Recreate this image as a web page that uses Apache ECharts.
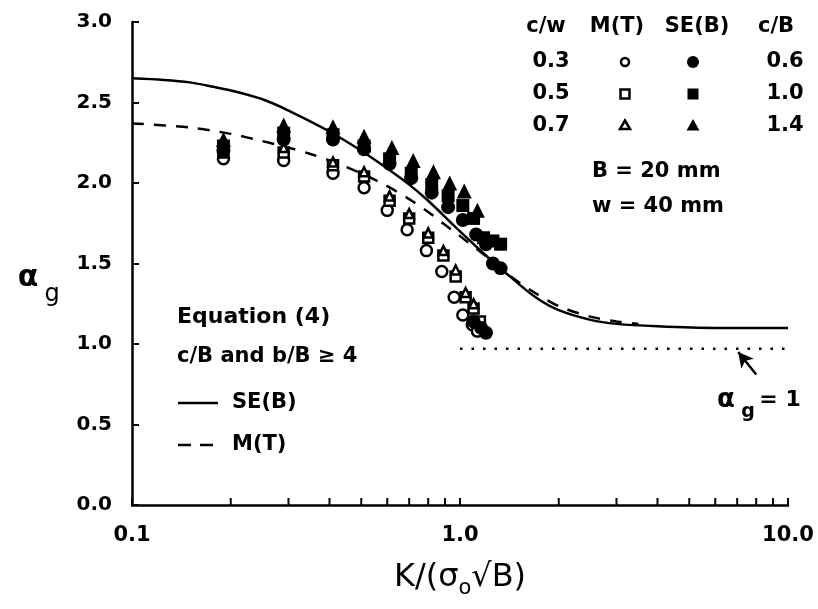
<!DOCTYPE html>
<html><head><meta charset="utf-8">
<script src="https://cdn.jsdelivr.net/npm/echarts@6/dist/echarts.min.js"></script>
<style>html,body{margin:0;padding:0;background:#fff}#c{width:818px;height:609px}</style>
</head><body><div id="c"></div>
<script>
const FONT = 'DejaVu Sans';

// Equation (4) curves
const seCurveX = [0.1,0.125,0.15,0.175,0.2,0.25,0.3,0.4,0.5,0.6,0.7,0.8,0.9,1.0,1.2,1.4,1.7,2.0,2.5,3.0,4.0,6.0,10.0];
const seCurveY = [2.65,2.64,2.625,2.60,2.575,2.52,2.45,2.32,2.20,2.09,1.99,1.89,1.79,1.70,1.55,1.43,1.29,1.21,1.15,1.125,1.11,1.10,1.10];
const mtCurveX = [0.1,0.15,0.2,0.25,0.3,0.35,0.4,0.5,0.6,0.7,0.8,0.9,1.0,1.2,1.45,1.7,2.0,2.5,3.0,3.5];
const mtCurveY = [2.37,2.345,2.305,2.26,2.22,2.18,2.14,2.06,1.98,1.90,1.82,1.74,1.67,1.545,1.41,1.315,1.235,1.17,1.14,1.125];

// alpha_g = 1 reference line
const refX = [1.0, 10.0];
const refY = [0.97, 0.97];

// M(T) open symbols
const mtCircleX = [0.19,0.29,0.41,0.51,0.60,0.69,0.79,0.88,0.96,1.02,1.09,1.13];
const mtCircleY = [2.15,2.14,2.06,1.97,1.83,1.71,1.58,1.45,1.29,1.18,1.12,1.08];
const mtSquareX = [0.19,0.29,0.41,0.51,0.61,0.70,0.80,0.89,0.97,1.04,1.10,1.15];
const mtSquareY = [2.19,2.19,2.11,2.04,1.89,1.78,1.66,1.55,1.42,1.29,1.22,1.14];
const mtTriX = [0.19,0.29,0.41,0.51,0.61,0.70,0.80,0.89,0.97,1.04,1.10];
const mtTriY = [2.23,2.22,2.13,2.07,1.92,1.81,1.69,1.58,1.46,1.32,1.25];

// SE(B) filled symbols
const seCircleX = [0.19,0.29,0.41,0.51,0.61,0.71,0.82,0.92,1.02,1.12,1.20,1.26,1.33,1.10,1.16,1.20];
const seCircleY = [2.20,2.27,2.27,2.21,2.12,2.03,1.94,1.85,1.77,1.68,1.62,1.50,1.47,1.14,1.10,1.07];
const seSquareX = [0.19,0.29,0.41,0.51,0.61,0.71,0.82,0.92,1.02,1.10,1.18,1.26,1.33];
const seSquareY = [2.23,2.31,2.30,2.23,2.15,2.06,1.99,1.92,1.86,1.78,1.66,1.64,1.62];
const seTriX = [0.19,0.29,0.41,0.51,0.62,0.72,0.83,0.93,1.03,1.13];
const seTriY = [2.27,2.36,2.35,2.29,2.22,2.14,2.07,2.00,1.95,1.83];

// axis ticks
const yTicks = [0.0,0.5,1.0,1.5,2.0,2.5,3.0];
const xMinorTicks = [0.2,0.3,0.4,0.5,0.6,0.7,0.8,0.9,2,3,4,5,6,7,8,9];

// arrow pointing at reference line
const arrowFrom = [8.0, 0.81];
const arrowTo = [7.05, 0.95];

const zip = (xs, ys) => xs.map((x, i) => [x, ys[i]]);

const openStyle = {color:'#fff', borderColor:'#000', borderWidth:2.5, opacity:1};
const fillStyle = {color:'#000', opacity:1};

const chart = echarts.init(document.getElementById('c'), null, {renderer:'canvas'});

const T = (text, x, y, opt) => Object.assign({
  type:'text', x:x, y:y, silent:true,
  style: Object.assign({text:text, fill:'#000', font:'bold 21px "' + FONT + '"', textAlign:'center', textVerticalAlign:'middle'}, opt || {})
});

const graphics = [];
// top-right table
const hdr = [['c/w',546],['M(T)',617],['SE(B)',697],['c/B',776]];
hdr.forEach(h => graphics.push(T(h[0], h[1], 27)));
const rowsY = [62, 94, 126];
const cw = ['0.3','0.5','0.7'];
const cb = ['0.6','1.0','1.4'];
rowsY.forEach((y, i) => {
  graphics.push(T(cw[i], 551, y));
  graphics.push(T(cb[i], 785, y));
});
// open symbols
graphics.push({type:'circle', shape:{cx:625, cy:62, r:4}, style:{fill:'#fff', stroke:'#000', lineWidth:2.5}, silent:true});
graphics.push({type:'rect', shape:{x:620.5, y:89.5, width:9, height:9}, style:{fill:'#fff', stroke:'#000', lineWidth:2.5}, silent:true});
graphics.push({type:'polygon', shape:{points:[[625,120.5],[630,129],[620,129]]}, style:{fill:'#fff', stroke:'#000', lineWidth:2.5}, silent:true});
// filled symbols
graphics.push({type:'circle', shape:{cx:693, cy:62, r:6}, style:{fill:'#000'}, silent:true});
graphics.push({type:'rect', shape:{x:687.5, y:88.5, width:11, height:11}, style:{fill:'#000'}, silent:true});
graphics.push({type:'polygon', shape:{points:[[693,119],[699.5,130.5],[686.5,130.5]]}, style:{fill:'#000'}, silent:true});
graphics.push(T('B = 20 mm', 592, 172, {textAlign:'left'}));
graphics.push(T('w = 40 mm', 592, 207, {textAlign:'left'}));

// left legend
graphics.push(T('Equation (4)', 177, 317, {textAlign:'left', font:'bold 22px "' + FONT + '"'}));
graphics.push(T('c/B and b/B \u2265 4', 177, 357, {textAlign:'left'}));
graphics.push({type:'line', shape:{x1:178, y1:403, x2:218, y2:403}, style:{stroke:'#000', lineWidth:2.5}, silent:true});
graphics.push(T('SE(B)', 232, 403, {textAlign:'left'}));
graphics.push({type:'line', shape:{x1:178, y1:445, x2:191, y2:445}, style:{stroke:'#000', lineWidth:2.5}, silent:true});
graphics.push({type:'line', shape:{x1:200, y1:445, x2:213, y2:445}, style:{stroke:'#000', lineWidth:2.5}, silent:true});
graphics.push(T('M(T)', 232, 445, {textAlign:'left'}));

// alpha_g = 1 label
graphics.push(T('\u03b1', 726, 400, {font:'bold 26px "' + FONT + '"'}));
graphics.push(T('g', 748, 412, {font:'bold 19px "' + FONT + '"'}));
graphics.push(T('= 1', 780, 400, {font:'bold 22px "' + FONT + '"'}));

// y axis name
graphics.push(T('\u03b1', 28, 278, {font:'bold 30px "' + FONT + '"'}));
graphics.push(T('g', 52, 295, {font:'24px "' + FONT + '"'}));

// x axis name
graphics.push({
  type:'text', x:460, y:578, silent:true,
  style:{
    text:'{m|K/(\u03c3}{s|o}{m|\u221aB)}',
    textAlign:'center', textVerticalAlign:'middle', fill:'#000',
    rich:{
      m:{fontSize:32, fontFamily:FONT, fontWeight:'normal', lineHeight:42, verticalAlign:'middle'},
      s:{fontSize:21, fontFamily:FONT, fontWeight:'normal', lineHeight:42, verticalAlign:'bottom'}
    }
  }
});

const option = {
  animation:false,
  backgroundColor:'#fff',
  grid:{left:132, right:30, top:22, bottom:104},
  xAxis:{
    type:'log', logBase:10, min:0.1, max:10,
    axisLine:{show:true, lineStyle:{color:'#000', width:2.5}},
    axisTick:{show:true, inside:true, length:7, lineStyle:{color:'#000', width:2}},
    minorTick:{show:false},
    splitLine:{show:false},
    axisLabel:{color:'#000', fontFamily:FONT, fontWeight:'bold', fontSize:21, margin:20,
      formatter: v => Number(v).toFixed(1)}
  },
  yAxis:{
    type:'value', min:0, max:3, interval:0.5,
    axisLine:{show:true, lineStyle:{color:'#000', width:2.5}},
    axisTick:{show:true, inside:true, length:7, lineStyle:{color:'#000', width:2}},
    splitLine:{show:false},
    axisLabel:{color:'#000', fontFamily:FONT, fontWeight:'bold', fontSize:20, margin:20,
      formatter: v => Number(v).toFixed(1)}
  },
  graphic: graphics,
  series:[
    {type:'scatter', name:'minorTicks', data:xMinorTicks.map(x => [x, 0]), symbol:'rect', symbolSize:[2,7], symbolOffset:[0,-3.5],
      itemStyle:{color:'#000', opacity:1}, silent:true, clip:false, z:5},
    {type:'line', name:'SE(B) eq', data:zip(seCurveX, seCurveY), smooth:0.3, showSymbol:false,
      lineStyle:{color:'#000', width:2.5}, z:2},
    {type:'line', name:'M(T) eq', data:zip(mtCurveX, mtCurveY), smooth:0.3, showSymbol:false,
      lineStyle:{color:'#000', width:2.5, type:[12,10]}, z:2},
    {type:'line', name:'ref', data:zip(refX, refY), showSymbol:false,
      lineStyle:{color:'#000', width:2.5, type:[2.5,9]}, z:2,
      markLine:{silent:true, symbol:['none','arrow'], symbolSize:[12,15], label:{show:false},
        lineStyle:{color:'#000', width:2.5, type:'solid'},
        data:[[{coord:arrowFrom},{coord:arrowTo}]]}},
    {type:'scatter', name:'M(T) c/w=0.3', data:zip(mtCircleX, mtCircleY), symbol:'circle', symbolSize:11, itemStyle:openStyle, z:3},
    {type:'scatter', name:'M(T) c/w=0.5', data:zip(mtSquareX, mtSquareY), symbol:'rect', symbolSize:10, itemStyle:openStyle, z:3},
    {type:'scatter', name:'M(T) c/w=0.7', data:zip(mtTriX, mtTriY), symbol:'triangle', symbolSize:9, itemStyle:openStyle, z:3},
    {type:'scatter', name:'SE(B) c/w=0.3', data:zip(seCircleX, seCircleY), symbol:'circle', symbolSize:14, itemStyle:fillStyle, z:4},
    {type:'scatter', name:'SE(B) c/w=0.5', data:zip(seSquareX, seSquareY), symbol:'rect', symbolSize:13, itemStyle:fillStyle, z:4},
    {type:'scatter', name:'SE(B) c/w=0.7', data:zip(seTriX, seTriY), symbol:'triangle', symbolSize:15, itemStyle:fillStyle, z:4}
  ]
};
chart.setOption(option);
</script></body></html>
